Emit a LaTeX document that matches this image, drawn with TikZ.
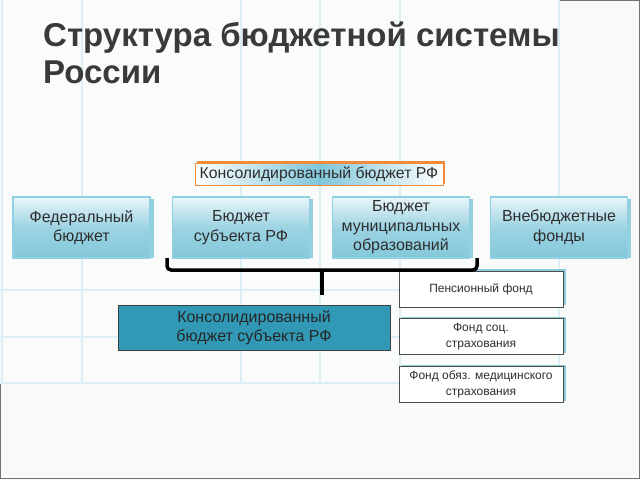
\documentclass[tikz,border=0pt]{standalone}
\usepackage{fontspec}
\setmainfont{Liberation Sans}
\definecolor{pagebg}{HTML}{F8F9F9}
\definecolor{panelbg}{HTML}{FAFBFB}
\definecolor{gridc}{HTML}{DCEFF6}
\definecolor{titlec}{HTML}{3A3A3A}
\definecolor{tealdk}{HTML}{3FA9C4}
\definecolor{tealmid}{HTML}{72C0D5}
\definecolor{teallt}{HTML}{EAF6FA}
\definecolor{bordlt}{HTML}{8FD0E4}
\definecolor{orangec}{HTML}{F08A3C}
\definecolor{tealbox}{HTML}{3199B6}
\definecolor{textc}{HTML}{2E2E2E}
\tikzset{
  bluebox/.style={draw=bordlt, line width=1.2pt, top color=teallt, bottom color=tealmid!85!teallt,
    middle color=tealmid!65!teallt, minimum width=137pt, minimum height=61pt, inner sep=1pt,
    align=center, text=textc, font=\fontsize{16}{19.5}\selectfont},
  orangebox/.style={draw=orangec, line width=0.8pt, left color=white, right color=white,
    middle color=tealmid!90!white, minimum width=248pt, minimum height=22pt, inner sep=0pt,
    text=textc, font=\fontsize{15.8}{17}\selectfont},
  consbox/.style={draw=black!75, line width=0.8pt, fill=tealbox, minimum width=272pt,
    minimum height=45pt, align=center, text=black!85, font=\fontsize{16}{18.5}\selectfont},
  fundbox/.style={draw=black!70, line width=0.8pt, fill=white, minimum width=164pt,
    minimum height=36pt, align=center, text=textc, font=\fontsize{12}{15.5}\selectfont},
  bracec/.style={line width=3.5pt, rounded corners=4pt, black},
  gridl/.style={gridc, line width=1.2pt}
}
\begin{document}
\begin{tikzpicture}[x=1pt,y=-1pt]
\useasboundingbox (0,0) rectangle (640,480);
\fill[pagebg] (0,0) rectangle (640,480);
\draw[black!55, line width=1pt] (0.5,0.5) rectangle (639.5,478.5);
\fill[panelbg] (0,0) rectangle (560,383);
% faint grid
\foreach \gx in {2,82,241,320,400,559} \draw[gridl] (\gx,0) -- (\gx,383);
\foreach \gy in {290,337,383} \draw[gridl] (0,\gy) -- (560,\gy);
% title
\node[anchor=north west, inner sep=0pt, align=left, text=titlec,
  font=\fontsize{33}{37}\selectfont\bfseries] (title) at (43,22)
  {Структура бюджетной системы\\России};
% orange top box
\fill[orangec] (197,161) rectangle (445,184);
\node[orangebox] (crf) at (319,174) {Консолидированный бюджет РФ};
% blue boxes with shadows
\foreach \bx in {82,241,401,559} \fill[tealdk!55] (\bx-66,199) rectangle (\bx+71.5,258);
\node[bluebox] (fed) at (81.5,227.5) {Федеральный\\бюджет};
\node[bluebox] (subj) at (241,227.5) {Бюджет\\субъекта РФ};
\node[bluebox] (mun) at (401,227.5) {Бюджет\\муниципальных\\образований};
\node[bluebox] (vneb) at (559,227.5) {Внебюджетные\\фонды};
% consolidated subject box
\node[consbox] (cons) at (254,327.5) {Консолидированный\\[1pt]бюджет субъекта РФ};
% funds with teal glow
\foreach \fy in {289,336.5,384.5} \fill[tealdk!60] (402,\fy-20) rectangle (566,\fy+16);
\node[fundbox] (pens) at (481,289) {Пенсионный фонд};
\node[fundbox] (soc) at (481,336.5) {Фонд соц.\\страхования};
\node[fundbox] (med) at (481,384.5) {Фонд обяз. медицинского\\страхования};
% brace
\coordinate (bl) at (167,258);
\coordinate (br) at (477,258);
\coordinate (bm) at (322,270);
\coordinate (bt) at (322,295);
\draw[bracec] (bl) -- (bl|-bm) -- (br|-bm) -- (br);
\draw[bracec] (bm) -- (bt);
\end{tikzpicture}
\end{document}
